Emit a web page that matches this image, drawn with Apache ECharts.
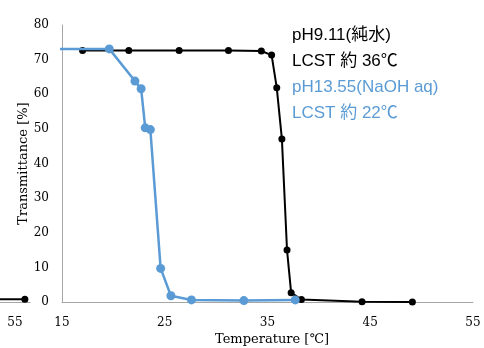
<!DOCTYPE html>
<html><head><meta charset="utf-8">
<script src="https://cdn.jsdelivr.net/npm/echarts@6/dist/echarts.min.js"></script>
<style>html,body{margin:0;padding:0;background:#fff}#c{width:484px;height:348px}</style>
</head><body><div id="c"></div>
<script>
// Main chart data: [temperature °C, transmittance %]
const pureWaterTemp = [17.0, 21.5, 26.4, 31.2, 34.4, 35.4, 35.9, 36.4, 36.9, 37.3, 38.3, 44.2, 49.1];
const pureWaterTrans = [72.6, 72.6, 72.6, 72.6, 72.5, 71.3, 61.9, 47.1, 15.0, 2.7, 0.7, 0.1, 0.0];
const naohTemp = [14.0, 19.6, 22.1, 22.7, 23.1, 23.6, 24.6, 25.6, 27.6, 32.7, 37.7];
const naohTrans = [73.1, 73.1, 63.8, 61.6, 50.3, 49.8, 9.7, 1.8, 0.6, 0.4, 0.6];
// Fragment of neighbouring chart at left edge
const fragTemp = [40.0, 54.5];
const fragTrans = [0.6, 0.8];
const xTicks = [15, 25, 35, 45, 55];
const yTicks = [0, 10, 20, 30, 40, 50, 60, 70, 80];
const legendLines = [
  {text: 'pH9.11(純水)', color: '#000000'},
  {text: 'LCST 約 36℃', color: '#000000'},
  {text: 'pH13.55(NaOH aq)', color: '#5B9BD5'},
  {text: 'LCST 約 22℃', color: '#5B9BD5'}
];

const zip = (a, b) => a.map((v, i) => [v, b[i]]);
const serif = 'DejaVu Serif';
const axisGray = '#a6a6a6';

const chart = echarts.init(document.getElementById('c'));
chart.setOption({
  animation: false,
  grid: [
    {left: 62, right: 11, top: 25, bottom: 46, outerBoundsMode: 'none', containLabel: false},
    {left: -381, width: 411, top: 25, bottom: 46, outerBoundsMode: 'none', containLabel: false}
  ],
  xAxis: [
    {gridIndex: 0, type: 'value', min: xTicks[0], max: xTicks[xTicks.length-1], interval: 10,
     axisLine: {lineStyle: {color: axisGray, width: 1}}, axisTick: {show: false}, splitLine: {show: false},
     axisLabel: {fontFamily: serif, fontSize: 12, color: '#000', margin: 15},
     name: 'Temperature [℃]', nameLocation: 'middle', nameGap: 31, nameMoveOverlap: false,
     nameTextStyle: {fontFamily: serif, fontSize: 13, color: '#000', padding: [0, 0, 0, 9]}},
    {gridIndex: 1, type: 'value', min: xTicks[0], max: xTicks[xTicks.length-1], interval: 10,
     axisLine: {lineStyle: {color: axisGray, width: 1}}, axisTick: {show: false}, splitLine: {show: false},
     axisLabel: {fontFamily: serif, fontSize: 12, color: '#000', margin: 15, padding: [0, 30, 0, 0]}}
  ],
  yAxis: [
    {gridIndex: 0, type: 'value', min: yTicks[0], max: yTicks[yTicks.length-1], interval: 10,
     axisLine: {show: true, lineStyle: {color: axisGray, width: 1}}, axisTick: {show: false}, splitLine: {show: false},
     axisLabel: {fontFamily: serif, fontSize: 12, color: '#000', margin: 13},
     name: 'Transmittance [%]', nameLocation: 'middle', nameGap: 32, nameMoveOverlap: false,
     nameTextStyle: {fontFamily: serif, fontSize: 13, color: '#000'}},
    {gridIndex: 1, type: 'value', min: 0, max: 80, show: false}
  ],
  series: [
    {type: 'line', xAxisIndex: 1, yAxisIndex: 1, data: zip(fragTemp, fragTrans), clip: false,
     symbol: 'circle', symbolSize: 7, showSymbol: true,
     itemStyle: {color: '#000'}, lineStyle: {color: '#000', width: 2}},
    {type: 'line', xAxisIndex: 0, yAxisIndex: 0, data: zip(pureWaterTemp, pureWaterTrans), clip: true,
     symbol: 'circle', symbolSize: 7, itemStyle: {color: '#000'}, lineStyle: {color: '#000', width: 2}, z: 3},
    {type: 'line', xAxisIndex: 0, yAxisIndex: 0, data: zip(naohTemp, naohTrans), clip: true,
     symbol: 'circle', symbolSize: 9, itemStyle: {color: '#5B9BD5'}, lineStyle: {color: '#5B9BD5', width: 2.5}, z: 4}
  ],
  graphic: legendLines.map((l, i) => ({
    type: 'text', left: 292, top: 27 + i * 26, z: 10,
    style: {text: l.text, fill: l.color, font: '17px "Liberation Sans", "Noto Sans CJK JP", sans-serif'}
  }))
});
</script></body></html>
